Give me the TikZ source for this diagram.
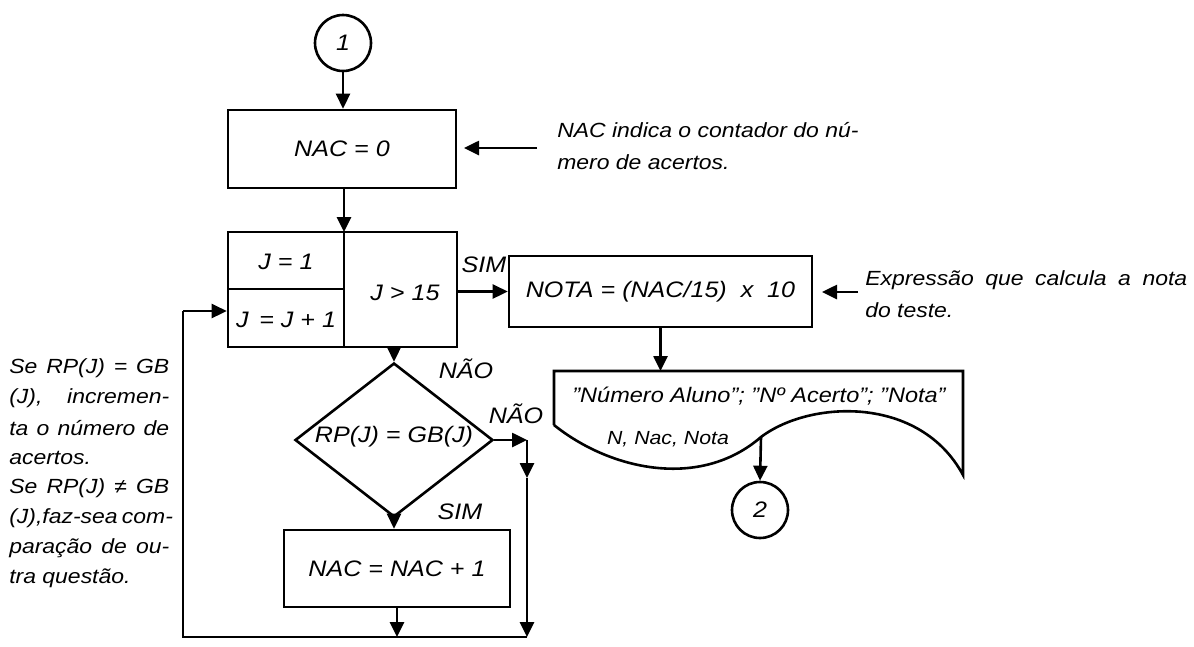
\documentclass[tikz,border=0pt]{standalone}
\usepackage{fontspec}
\setmainfont{Liberation Sans}[FakeStretch=1.12]
\usetikzlibrary{arrows.meta,shapes.geometric}
\begin{document}
\begin{tikzpicture}[x=1pt,y=-1pt,line width=2.6pt,
  every node/.style={font=\fontsize{22.4}{26}\selectfont\itshape},
  small/.style={font=\fontsize{19}{22}\selectfont\itshape},
  mid/.style={font=\fontsize{21}{24}\selectfont\itshape},
  txt/.style={font=\fontsize{20.5}{24}\selectfont\itshape},
  box/.style={draw,rectangle,inner sep=0pt},
  conn/.style={draw,circle,minimum size=56pt,inner sep=0pt},
  arr/.style={-{Triangle[length=15pt,width=14pt]}},
  lbl/.style={inner sep=0pt},
  note/.style={inner sep=0pt,anchor=west,txt}]
\useasboundingbox (0,0) rectangle (1194,646);

% connectors (circles)
\node[conn] (c1) at (343,43) {1};
\node[conn] (c2) at (760,510) {2};

% boxes
\node[box,minimum width=228pt,minimum height=78pt] (nac0) at (342,149) {NAC = 0};
\node[box,minimum width=229pt,minimum height=115pt] (loop) at (342.5,289.5) {};
\coordinate (lt) at (344,232);
\coordinate (lb) at (344,347);
\coordinate (lm) at (228,289);
\draw (lt) -- (lb);
\draw (lm) -- (lm -| lt);
\node[lbl] (j1) at (286,262) {J = 1};
\node[lbl] (jinc) at (286,320) {J \,= J + 1};
\node[lbl] (jgt) at (405,293) {J > 15};

\node[box,minimum width=303pt,minimum height=71pt] (nota) at (660.5,291.5) {NOTA = (NAC/15) \ x \ 10};

\node[draw,diamond,minimum width=198pt,minimum height=154pt,inner sep=0pt] (dia) at (394,440) {};
\node[lbl] (diat) at (394,437) {RP(J) = GB(J)};

\node[box,minimum width=226pt,minimum height=77pt] (nac1) at (397,568.5) {NAC = NAC + 1};

% document shape
\coordinate (dtl) at (554,371);
\coordinate (dtr) at (963,371);
\coordinate (dbl) at (554,425);
\coordinate (dbr) at (963,475);
\coordinate (dw) at (761,437);
\draw[line join=miter] (dbl) -- (dtl) -- (dtr) -- (dbr)
  .. controls (920,395) and (810,400) .. (dw)
  .. controls (700,490) and (610,470) .. (dbl);
\node[lbl,mid] (d1) at (759,396) {”Número Aluno”; ”Nº Acerto”; ”Nota”};
\node[lbl,small] (d2) at (668,439) {N, Nac, Nota};

% flow connectors
\draw[arr] (c1.south) -- (c1.south |- nac0.north);
\draw[arr] (nac0.south -| lt) -- (lt);
\draw[arr] (nota.west -| loop.east) -- (nota.west);
\node[lbl] (sim1) at (484,265) {SIM};
\draw[arr] (dia.north |- loop.south) -- (dia.north);
\node[lbl] (nao1) at (466,369) {NÃO};
\coordinate (r1) at (527,440);
\coordinate (rm) at (527,478);
\coordinate (r2) at (527,637);
\coordinate (b1) at (397,637);
\coordinate (bl) at (183,637);
\coordinate (tl) at (183,311);
\draw[arr] (dia.east) -- (r1);
\draw[arr] (r1) -- (rm);
\draw[arr] (rm) -- (r2);
\node[lbl] (nao2) at (516,414) {NÃO};
\draw[arr] (dia.south) -- (dia.south |- nac1.north);
\node[lbl] (sim2) at (460,512) {SIM};
\draw[arr] (nac1.south) -- (b1);
\draw (r2) -- (bl) -- (tl);
\draw[arr] (tl) -- (tl -| loop.west);
\draw[arr] (nota.south) -- (nota.south |- dtl);
\draw[arr] (dw) -- (c2.north);

% comments
\coordinate (ca1) at (537,148);
\coordinate (ca2) at (464,148);
\draw[arr] (ca1) -- (ca2);
\node[note] (n1) at (556,130) {NAC indica o contador do nú-};
\node[note] (n2) at (556,162) {mero de acertos.};
\coordinate (cb1) at (858,292);
\coordinate (cb2) at (822,292);
\draw[arr] (cb1) -- (cb2);
\node[note] (e1) at (864,280) {\makebox[322pt][s]{Expressão que calcula a nota}};
\node[note] (e2) at (864,310) {do teste.};

% left explanation
\node[note] (l1) at (8,368) {\makebox[160pt][s]{Se RP(J) = GB}};
\node[note] (l2) at (8,398) {\makebox[160pt][s]{(J), incremen-}};
\node[note] (l3) at (8,428) {\makebox[160pt][s]{ta o número de}};
\node[note] (l4) at (8,458) {acertos.};
\node[note] (l5) at (8,488) {\makebox[160pt][s]{Se RP(J) ≠ GB}};
\node[note] (l6) at (8,518) {\makebox[160pt][s]{(J),faz-sea com-}};
\node[note] (l7) at (8,548) {\makebox[160pt][s]{paração de ou-}};
\node[note] (l8) at (8,578) {tra questão.};
\end{tikzpicture}
\end{document}
